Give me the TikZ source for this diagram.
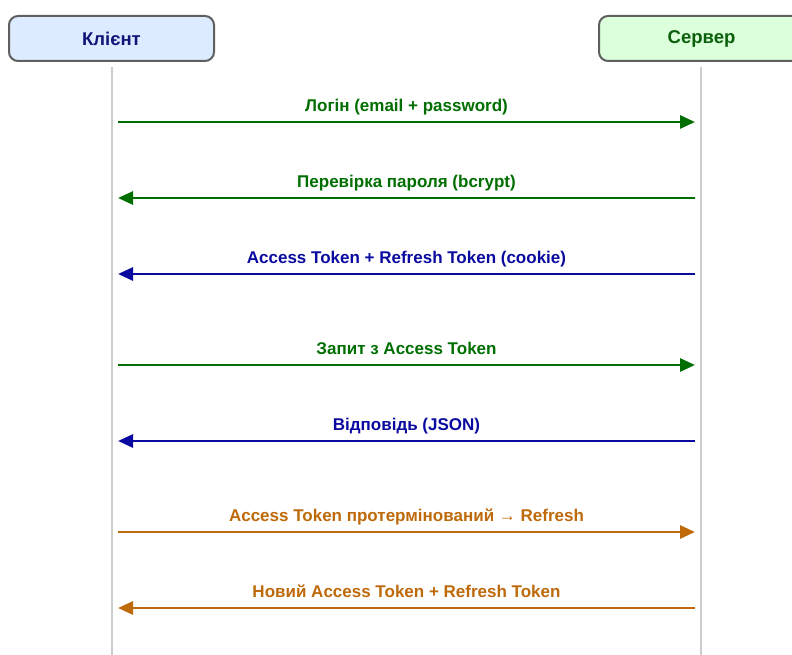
\documentclass[tikz,border=0pt]{standalone}
\usepackage{fontspec}
\setmainfont{Liberation Sans}
\usetikzlibrary{arrows.meta, positioning}

\definecolor{boxgray}{RGB}{95,95,95}
\definecolor{linegray}{RGB}{205,205,205}
\definecolor{clientfill}{RGB}{220,235,255}
\definecolor{serverfill}{RGB}{220,255,220}
\definecolor{clientink}{RGB}{20,20,120}
\definecolor{serverink}{RGB}{10,95,10}
\definecolor{msggreen}{RGB}{0,110,0}
\definecolor{msgblue}{RGB}{10,10,160}
\definecolor{msgorange}{RGB}{190,105,10}

\begin{document}
\begin{tikzpicture}[x=1pt, y=-1pt, >={Triangle[length=15pt,width=13pt]},
  actor/.style={draw=boxgray, line width=2pt, rounded corners=9pt,
    minimum width=205pt, minimum height=45pt, inner sep=0pt,
    font=\fontsize{18.5}{22}\selectfont\bfseries},
  lifeline/.style={draw=linegray, line width=1.2pt},
  msg/.style={->, line width=2.8pt, shorten >=6pt, shorten <=6pt},
  msglabel/.style={anchor=base, yshift=10.5pt, inner sep=0pt,
    font=\fontsize{17}{20}\selectfont\bfseries}]
  \clip (0,0) rectangle (792,655);

  % --- Participants ---
  \node[actor, fill=clientfill, text=clientink] (client) at (111.5,38.5) {Клієнт};
  \node[actor, fill=serverfill, text=serverink] (server) at (701.5,38.5) {Сервер};

  % Lifelines
  \coordinate (client top) at (112,67);
  \coordinate (client end) at (112,655);
  \coordinate (server top) at (701,67);
  \coordinate (server end) at (701,655);
  \draw[lifeline] (client top) -- (client end);
  \draw[lifeline] (server top) -- (server end);

  % Message points on the lifelines
  \coordinate (c1) at (112,122); \coordinate (s1) at (701,122);
  \coordinate (c2) at (112,198); \coordinate (s2) at (701,198);
  \coordinate (c3) at (112,274); \coordinate (s3) at (701,274);
  \coordinate (c4) at (112,365); \coordinate (s4) at (701,365);
  \coordinate (c5) at (112,441); \coordinate (s5) at (701,441);
  \coordinate (c6) at (112,532); \coordinate (s6) at (701,532);
  \coordinate (c7) at (112,608); \coordinate (s7) at (701,608);

  % --- Login ---
  \draw[msg, msggreen] (c1) -- node[msglabel] {Логін (email + password)} (s1);
  \draw[msg, msggreen] (s2) -- node[msglabel] {Перевірка пароля (bcrypt)} (c2);
  \draw[msg, msgblue] (s3) -- node[msglabel] {Access Token + Refresh Token (cookie)} (c3);

  % --- Request ---
  \draw[msg, msggreen] (c4) -- node[msglabel] {Запит з Access Token} (s4);
  \draw[msg, msgblue] (s5) -- node[msglabel] {Відповідь (JSON)} (c5);

  % --- Refresh ---
  \draw[msg, msgorange] (c6) -- node[msglabel] {Access Token протермінований → Refresh} (s6);
  \draw[msg, msgorange] (s7) -- node[msglabel] {Новий Access Token + Refresh Token} (c7);
\end{tikzpicture}
\end{document}
